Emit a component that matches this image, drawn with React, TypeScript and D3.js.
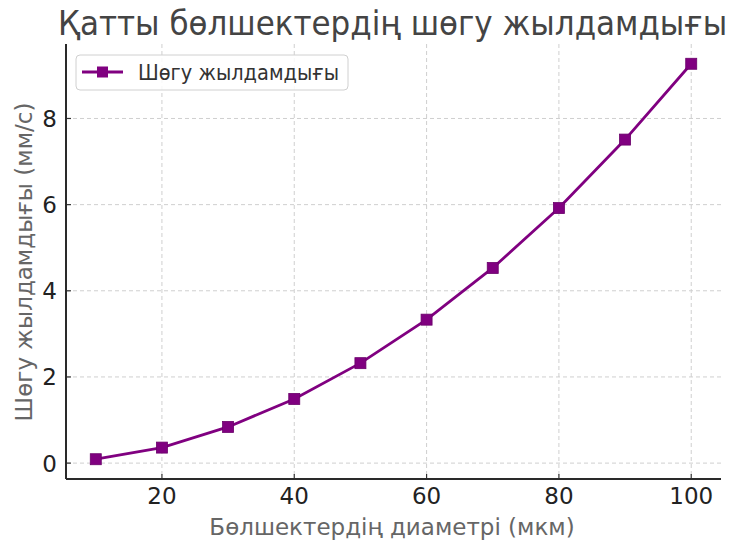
import React from "react";
import * as d3 from "d3";

const diameters = [10, 20, 30, 40, 50, 60, 70, 80, 90, 100];
const velocities = [0.09, 0.36, 0.84, 1.49, 2.32, 3.33, 4.53, 5.92, 7.51, 9.27];
const xTicks = [20, 40, 60, 80, 100];
const yTicks = [0, 2, 4, 6, 8];

const titleText = "Қатты бөлшектердің шөгу жылдамдығы";
const xLabel = "Бөлшектердің диаметрі (мкм)";
const yLabel = "Шөгу жылдамдығы (мм/с)";
const seriesName = "Шөгу жылдамдығы";

const W = 732;
const H = 540;
const left = 66;
const right = 721;
const top = 44;
const bottom = 479;
const font = "'DejaVu Sans', sans-serif";
const purple = "#800080";

export default function App() {
  const xPad = (d3.max(diameters)! - d3.min(diameters)!) * 0.05;
  const yPad = (d3.max(velocities)! - d3.min(velocities)!) * 0.05;
  const x = d3
    .scaleLinear()
    .domain([d3.min(diameters)! - xPad, d3.max(diameters)! + xPad])
    .range([left, right]);
  const y = d3
    .scaleLinear()
    .domain([d3.min(velocities)! - yPad, d3.max(velocities)! + yPad])
    .range([bottom, top]);
  const line = d3
    .line<number>()
    .x((_, i) => x(diameters[i]))
    .y((d) => y(d));
  const ms = 11;

  return (
    <svg
      width={W}
      height={H}
      style={{ position: "absolute", left: 0, top: 0, background: "#fff" }}
      fontFamily={font}
    >
      <rect x={0} y={0} width={W} height={H} fill="#fff" />
      {/* grid */}
      {xTicks.map((t) => (
        <line
          key={"gx" + t}
          x1={x(t)}
          x2={x(t)}
          y1={top}
          y2={bottom}
          stroke="#cfcfcf"
          strokeWidth={1}
          strokeDasharray="4,3"
        />
      ))}
      {yTicks.map((t) => (
        <line
          key={"gy" + t}
          x1={left}
          x2={right}
          y1={y(t)}
          y2={y(t)}
          stroke="#cfcfcf"
          strokeWidth={1}
          strokeDasharray="4,3"
        />
      ))}
      {/* ticks inward */}
      {xTicks.map((t) => (
        <line key={"tx" + t} x1={x(t)} x2={x(t)} y1={bottom} y2={bottom - 5} stroke="#333" strokeWidth={1.2} />
      ))}
      {yTicks.map((t) => (
        <line key={"ty" + t} x1={left} x2={left + 5} y1={y(t)} y2={y(t)} stroke="#333" strokeWidth={1.2} />
      ))}
      {/* spines */}
      <line x1={left} x2={left} y1={top} y2={bottom} stroke="#2a2a2a" strokeWidth={2} />
      <line x1={left} x2={right} y1={bottom} y2={bottom} stroke="#2a2a2a" strokeWidth={2} />
      {/* tick labels */}
      {xTicks.map((t) => (
        <text key={"lx" + t} x={x(t)} y={504} textAnchor="middle" fontSize={23} fill="#222">
          {t}
        </text>
      ))}
      {yTicks.map((t) => (
        <text key={"ly" + t} x={57} y={y(t) + 8.5} textAnchor="end" fontSize={23} fill="#222">
          {t}
        </text>
      ))}
      {/* series */}
      <path d={line(velocities) || ""} fill="none" stroke={purple} strokeWidth={2.8} />
      {velocities.map((v, i) => (
        <rect
          key={"m" + i}
          x={x(diameters[i]) - ms / 2}
          y={y(v) - ms / 2}
          width={ms}
          height={ms}
          fill={purple}
          stroke="#6a006a"
          strokeWidth={0.8}
        />
      ))}
      {/* legend */}
      <rect x={76} y={55} width={272} height={35} rx={4} fill="#fff" fillOpacity={0.85} stroke="#d0d0d0" strokeWidth={1} />
      <line x1={82} x2={123} y1={72} y2={72} stroke={purple} strokeWidth={2.8} />
      <rect x={102.5 - ms / 2} y={72 - ms / 2} width={ms} height={ms} fill={purple} />
      <text x={138} y={80} fontSize={21} fill="#333" textLength={201} lengthAdjust="spacingAndGlyphs">
        {seriesName}
      </text>
      {/* title & labels */}
      <text transform="translate(58,35) scale(1,1.06)" fontSize={31} fill="#444">
        {titleText}
      </text>
      <text x={392} y={535} textAnchor="middle" fontSize={23} fill="#666">
        {xLabel}
      </text>
      <text
        transform={`translate(32,262) rotate(-90)`}
        textAnchor="middle"
        fontSize={23}
        fill="#666"
      >
        {yLabel}
      </text>
    </svg>
  );
}
